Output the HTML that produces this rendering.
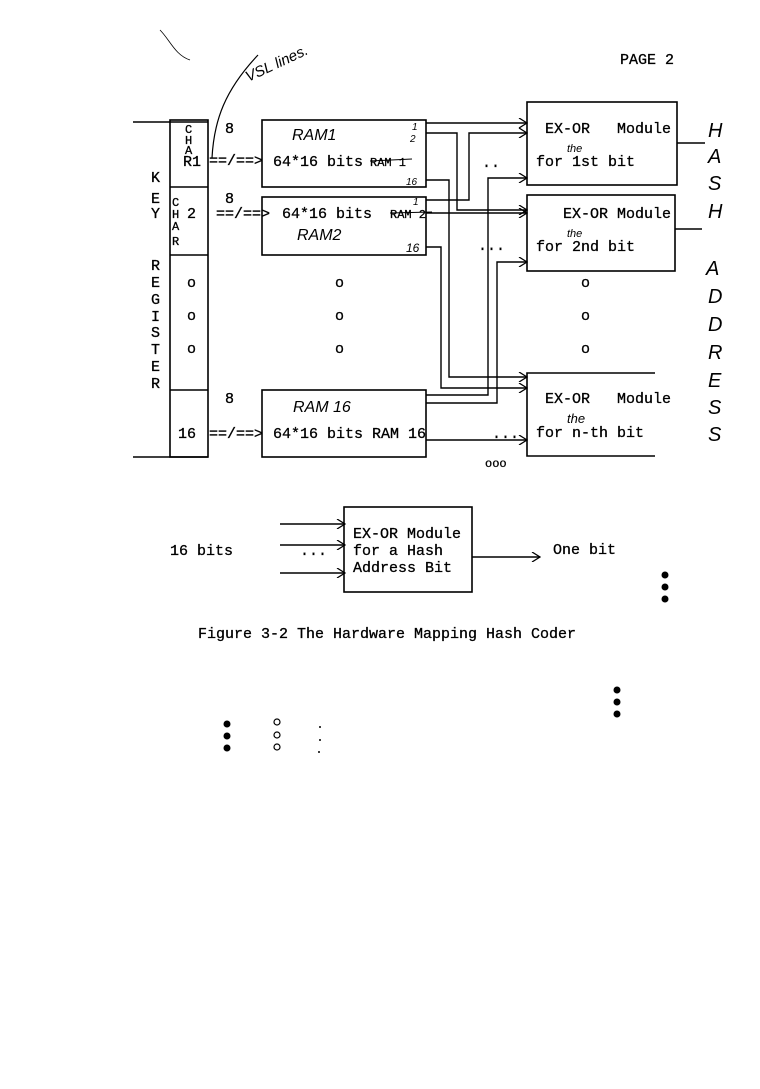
<!DOCTYPE html>
<html><head><meta charset="utf-8"><style>
html,body{margin:0;padding:0;background:#fff;}
svg{display:block}
.m{font-family:"Liberation Mono",monospace;font-size:15px;fill:#000;stroke:#000;stroke-width:0.3}
.h{font-family:"Liberation Sans",sans-serif;font-style:italic;fill:#000}
</style></head><body>
<svg width="760" height="1089" viewBox="0 0 760 1089" xmlns="http://www.w3.org/2000/svg">
<defs><marker id="a" markerWidth="10" markerHeight="10" refX="9" refY="5" orient="auto" markerUnits="userSpaceOnUse"><path d="M1,0 L9,5 L1,10" fill="none" stroke="#000" stroke-width="1.3"/></marker></defs>
<g stroke="#000" stroke-width="1.6" fill="none">
<line x1="133" y1="122" x2="208" y2="122"/>
<line x1="133" y1="457" x2="208" y2="457"/>
<rect x="170" y="120" width="38" height="337"/>
<line x1="170" y1="187" x2="208" y2="187"/>
<line x1="170" y1="255" x2="208" y2="255"/>
<line x1="170" y1="390" x2="208" y2="390"/>
<rect x="262" y="120" width="164" height="67"/>
<rect x="262" y="197" width="164" height="58"/>
<rect x="262" y="390" width="164" height="67"/>
<rect x="527" y="102" width="150" height="83"/>
<rect x="527" y="195" width="148" height="76"/>
<polyline points="655,373 527,373 527,456 655,456"/>
<line x1="677" y1="143" x2="705" y2="143"/>
<line x1="675" y1="229" x2="702" y2="229"/>
<rect x="344" y="507" width="128" height="85"/>
</g>
<g stroke="#000" stroke-width="1.4" fill="none" marker-end="url(#a)">
<polyline points="426,123 527,123"/>
<polyline points="426,133 457,133 457,210 527,210"/>
<polyline points="426,180 449,180 449,377 527,377"/>
<polyline points="426,200 469,200 469,133 527,133"/>
<polyline points="426,213 527,213"/>
<polyline points="426,247 441,247 441,388 527,388"/>
<polyline points="426,395 488,395 488,178 527,178"/>
<polyline points="426,403 497,403 497,262 527,262"/>
<polyline points="426,440 527,440"/>
<polyline points="280,524 345,524"/>
<polyline points="280,545 345,545"/>
<polyline points="280,573 345,573"/>
<polyline points="472,557 540,557"/>
</g>
<g stroke="#000" stroke-width="1.2" fill="none">
<path d="M212,158 C214,120 225,90 258,55"/>
<path d="M160,30 C170,40 175,55 190,60" stroke-width="0.8"/>
</g>
<text class="m" x="620" y="64">PAGE 2</text>
<g class="m">
<text x="151" y="182">K</text><text x="151" y="203">E</text><text x="151" y="218">Y</text>
<text x="151" y="270">R</text><text x="151" y="287">E</text><text x="151" y="304">G</text><text x="151" y="321">I</text><text x="151" y="337">S</text><text x="151" y="354">T</text><text x="151" y="371">E</text><text x="151" y="388">R</text>
<text x="185" y="133" font-size="12">C</text><text x="185" y="144" font-size="12">H</text><text x="185" y="154" font-size="12">A</text><text x="183" y="166">R1</text>
<text x="172" y="206" font-size="12">C</text><text x="172" y="218" font-size="12">H</text><text x="172" y="230" font-size="12">A</text><text x="172" y="245" font-size="12">R</text>
<text x="187" y="218">2</text>
<text x="187" y="287">o</text><text x="187" y="320">o</text><text x="187" y="353">o</text>
<text x="178" y="438">16</text>
<text x="225" y="133">8</text><text x="225" y="203">8</text><text x="225" y="403">8</text>
<text x="209" y="165">==/==&gt;</text><text x="216" y="218">==/==&gt;</text><text x="209" y="438">==/==&gt;</text>
<text x="273" y="166">64*16 bits</text><text x="282" y="218">64*16 bits</text><text x="273" y="438">64*16 bits RAM 16</text>
<text x="370" y="166" font-size="12">RAM 1</text><text x="390" y="218" font-size="12">RAM 2</text>
<text x="335" y="287">o</text><text x="335" y="320">o</text><text x="335" y="353">o</text>
<text x="581" y="287">o</text><text x="581" y="320">o</text><text x="581" y="353">o</text>
<text x="545" y="133">EX-OR&#160;&#160;&#160;Module</text><text x="536" y="166">for 1st bit</text>
<text x="563" y="218">EX-OR Module</text><text x="536" y="251">for 2nd bit</text>
<text x="545" y="403">EX-OR&#160;&#160;&#160;Module</text><text x="536" y="437">for n-th bit</text>
<text x="492" y="438">...</text><text x="485" y="467" font-size="12">ooo</text>
<text x="478" y="250">...</text><text x="482" y="167">..</text>
<text x="353" y="538">EX-OR Module</text><text x="353" y="555">for a Hash</text><text x="353" y="572">Address Bit</text>
<text x="300" y="555">...</text>
<text x="170" y="555">16 bits</text><text x="553" y="554">One bit</text>
<text x="198" y="638">Figure 3-2 The Hardware Mapping Hash Coder</text>
</g>
<g stroke="#000" stroke-width="1" fill="none"><line x1="370" y1="161" x2="412" y2="159"/><line x1="390" y1="213" x2="432" y2="212"/></g>
<g class="h" font-size="16">
<text x="292" y="140">RAM1</text><text x="297" y="240">RAM2</text><text x="293" y="412">RAM 16</text>
<text x="412" y="130" font-size="10">1</text><text x="410" y="142" font-size="10">2</text><text x="406" y="185" font-size="10">16</text>
<text x="413" y="205" font-size="10">1</text><text x="406" y="252" font-size="12">16</text>
<text x="567" y="152" font-size="11">the</text><text x="567" y="237" font-size="11">the</text><text x="567" y="423" font-size="13">the</text>
<text x="240" y="75" font-size="15" transform="rotate(-25 260 60)">VSL lines.</text>
</g>
<g class="h" font-size="20">
<text x="708" y="137">H</text><text x="708" y="163">A</text><text x="708" y="190">S</text><text x="708" y="218">H</text>
<text x="706" y="275">A</text><text x="708" y="303">D</text><text x="708" y="331">D</text><text x="708" y="359">R</text><text x="708" y="387">E</text><text x="708" y="414">S</text><text x="708" y="441">S</text>
</g>
<g fill="#000">
<circle cx="665" cy="575" r="3.5"/><circle cx="665" cy="587" r="3.5"/><circle cx="665" cy="599" r="3.5"/>
<circle cx="617" cy="690" r="3.5"/><circle cx="617" cy="702" r="3.5"/><circle cx="617" cy="714" r="3.5"/>
<circle cx="227" cy="724" r="3.5"/><circle cx="227" cy="736" r="3.5"/><circle cx="227" cy="748" r="3.5"/>
<circle cx="320" cy="727" r="1"/><circle cx="320" cy="740" r="1"/><circle cx="319" cy="752" r="1"/>
</g>
<g fill="none" stroke="#000" stroke-width="1.2">
<circle cx="277" cy="722" r="3"/><circle cx="277" cy="735" r="3"/><circle cx="277" cy="747" r="3"/>
</g>
</svg>
</body></html>
